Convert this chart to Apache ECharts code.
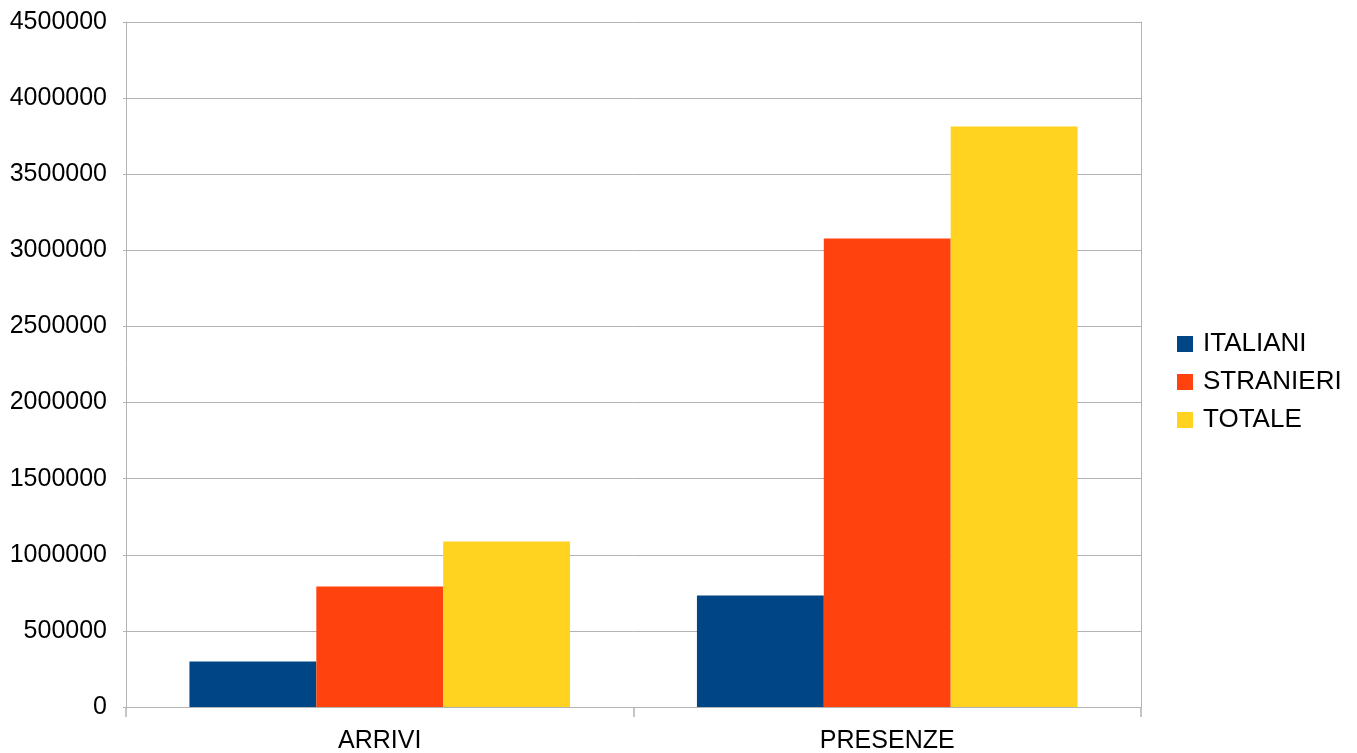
<!DOCTYPE html>
<html><head><meta charset="utf-8">
<script src="https://cdn.jsdelivr.net/npm/echarts@6/dist/echarts.min.js"></script>
<style>html,body{margin:0;padding:0;background:#fff}#c{width:1357px;height:753px}</style>
</head><body><div id="c"></div>
<script>
const categories = ['ARRIVI', 'PRESENZE'];
const italiani = [299000, 733000];
const stranieri = [792000, 3078000];
const totale = [1087000, 3814000];
const seriesNames = ['ITALIANI', 'STRANIERI', 'TOTALE'];
const colors = ['#004586', '#ff420e', '#ffd320'];

const chart = echarts.init(document.getElementById('c'));
const font = 'Liberation Sans, Arial, sans-serif';
const grey = '#b3b3b3';
chart.setOption({
  animation: false,
  textStyle: { fontFamily: font },
  grid: { left: 126, right: 216, top: 22, bottom: 46, containLabel: false, outerBoundsMode: 'none' },
  legend: {
    orient: 'vertical', left: 1177, top: 331, padding: 0,
    itemWidth: 16, itemHeight: 16, itemGap: 12, icon: 'rect',
    textStyle: { fontSize: 26, color: '#000', fontFamily: font, lineHeight: 26, padding: [0, 0, 0, 5] },
    data: seriesNames
  },
  xAxis: {
    type: 'category', data: categories,
    axisLine: { lineStyle: { color: grey } },
    axisTick: { show: true, length: 10, lineStyle: { color: grey, width: 1.5 } },
    axisLabel: { fontSize: 25, color: '#000', margin: 22, fontFamily: font }
  },
  yAxis: [{
    type: 'value', min: 0, max: 4500000, interval: 500000,
    axisLine: { show: true, lineStyle: { color: grey } },
    axisTick: { show: true, length: 3, lineStyle: { color: grey } },
    splitLine: { lineStyle: { color: grey } },
    axisLabel: { fontSize: 25, color: '#000', margin: 19, fontFamily: font, formatter: v => String(v) }
  }, {
    type: 'value', min: 0, max: 4500000, interval: 500000, position: 'right',
    axisLine: { show: true, lineStyle: { color: grey } },
    axisTick: { show: false }, splitLine: { show: false }, axisLabel: { show: false }
  }],
  series: [
    { name: seriesNames[0], type: 'bar', data: italiani, itemStyle: { color: colors[0] }, barGap: '0%', barCategoryGap: '25%' },
    { name: seriesNames[1], type: 'bar', data: stranieri, itemStyle: { color: colors[1] }, barGap: '0%', barCategoryGap: '25%' },
    { name: seriesNames[2], type: 'bar', data: totale, itemStyle: { color: colors[2] }, barGap: '0%', barCategoryGap: '25%' }
  ]
});
</script></body></html>
